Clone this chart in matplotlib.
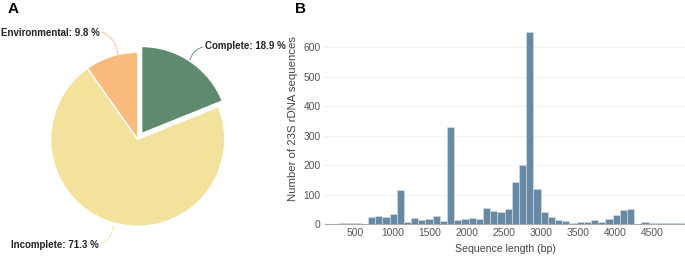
import matplotlib.pyplot as plt
import numpy as np

# pie data
groups = ["Complete", "Incomplete", "Environmental"]
shares = [18.9, 71.3, 9.8]
pie_colors = ["#5e8b70", "#f3e29b", "#f9ba7b"]

# histogram data (counts per ~97 bp bin)
bin_start = 84
bin_width = 97
counts = [1, 1, 2, 2, 2, 1,
          23, 28, 24, 34, 115, 7, 20, 13, 17, 28, 9, 328, 13, 17, 20, 17,
          54, 44, 41, 52, 141, 201, 653, 120, 41, 24, 14, 10, 5, 7, 8, 12,
          6, 16, 29, 48, 51, 1, 6, 2, 2, 4, 4, 3]
xticks = [500, 1000, 1500, 2000, 2500, 3000, 3500, 4000, 4500]
yticks = [0, 100, 200, 300, 400, 500, 600]

plt.rcParams['font.family'] = ['Liberation Sans', 'DejaVu Sans']

W, H = 685, 257
fig = plt.figure(figsize=(W / 100, H / 100), dpi=100)


def px_axes(l, t, r, b):
    return fig.add_axes([l / W, 1 - b / H, (r - l) / W, (b - t) / H])


# ---- panel A: pie ----
axp = px_axes(0, 0, 280, 257)
axp.pie(shares, colors=pie_colors, startangle=90, counterclock=False,
        explode=[7, 0, 0], center=(137.7, 117.7), radius=87,
        wedgeprops=dict(edgecolor="white", linewidth=1))
axp.set_xlim(0, 280)
axp.set_ylim(0, 257)
axp.set_aspect("auto")
axp.axis("off")

lab_kw = dict(fontsize=7.0, fontweight="bold", color="#222222", va="center")
axp.text(205, 211, f"{groups[0]}: {shares[0]} %", ha="left", **lab_kw)
axp.text(1, 224, f"{groups[2]}: {shares[2]} %", ha="left", **lab_kw)
axp.text(99, 12, f"{groups[1]}: {shares[1]} %", ha="right", **lab_kw)

axp.annotate("", xy=(190, 197), xytext=(203, 210),
             arrowprops=dict(arrowstyle="-", color=pie_colors[0], lw=0.6,
                             connectionstyle="arc3,rad=0.3", shrinkA=0, shrinkB=0))
axp.annotate("", xy=(118, 201), xytext=(102, 225),
             arrowprops=dict(arrowstyle="-", color=pie_colors[2], lw=0.6,
                             connectionstyle="arc3,rad=-0.3", shrinkA=0, shrinkB=0))
axp.annotate("", xy=(113, 31), xytext=(101, 13),
             arrowprops=dict(arrowstyle="-", color=pie_colors[1], lw=0.6,
                             connectionstyle="arc3,rad=0.3", shrinkA=0, shrinkB=0))

fig.text(8 / W, 1 - 9 / H, "A", fontsize=11, fontweight="bold", va="center")
fig.text(295 / W, 1 - 9 / H, "B", fontsize=11, fontweight="bold", va="center")

# ---- panel B: histogram ----
axh = px_axes(325, 28, 685, 224)
edges = bin_start + bin_width * np.arange(len(counts))
axh.bar(edges, counts, width=bin_width, align="edge", color="#6789a3",
        edgecolor="#d9e3ec", linewidth=0.4, zorder=2)
axh.set_xlim(87, 4941)
axh.set_ylim(0, 665.5)
axh.set_xticks(xticks)
axh.set_yticks(yticks)
axh.yaxis.grid(True, color="#eeeeee", lw=0.6, zorder=0)
axh.set_axisbelow(True)
for s in ["top", "right", "left"]:
    axh.spines[s].set_visible(False)
axh.spines["bottom"].set_color("#aaaaaa")
axh.spines["bottom"].set_linewidth(0.8)
axh.tick_params(length=0, labelsize=7.4, labelcolor="#555555", pad=3)
axh.set_xlabel("Sequence length (bp)", fontsize=7.6, color="#444444", labelpad=4)
axh.set_ylabel("Number of 23S rDNA sequences", fontsize=8.2, color="#444444")
axh.yaxis.set_label_coords(-0.075, 0.54)

fig.savefig("out.png", dpi=100)
